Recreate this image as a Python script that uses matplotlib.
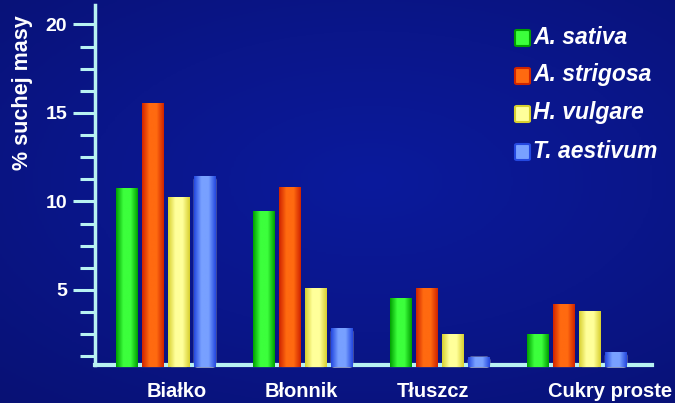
import numpy as np
import matplotlib
matplotlib.use("Agg")
import matplotlib.pyplot as plt
from matplotlib.colors import LinearSegmentedColormap
from matplotlib.patches import FancyBboxPatch

categories = ["Białko", "Błonnik", "Tłuszcz", "Cukry proste"]
series_names = ["A. sativa", "A. strigosa", "H. vulgare", "T. aestivum"]
values = {
    "A. sativa":   [10.7, 9.4, 4.5, 2.45],
    "A. strigosa": [15.5, 10.8, 5.1, 4.15],
    "H. vulgare":  [10.2, 5.1, 2.45, 3.8],
    "T. aestivum": [11.4, 2.8, 1.2, 1.45],
}
yticks_major = [5, 10, 15, 20]
ytick_labels = ["5", "10", "15", "20"]

# colour styles (edge, centre)
base_colors = {
    "A. sativa":   ("#00a000", "#3cff3c"),
    "A. strigosa": ("#d02400", "#ff6a10"),
    "H. vulgare":  ("#d8d030", "#ffff9a"),
    "T. aestivum": ("#2448e0", "#78a0ff"),
}
label_offsets = [0.08, -0.015, -0.05, 0.24]

W, H = 675, 403
fig = plt.figure(figsize=(W / 100, H / 100), dpi=100)

# background
bg = fig.add_axes([0, 0, 1, 1])
yy, xx = np.mgrid[0:1:200j, 0:1:300j]
r = np.sqrt((xx - 0.55) ** 2 * 0.8 + (yy - 0.45) ** 2)
bgcmap = LinearSegmentedColormap.from_list("bg", ["#0b1a9c", "#0a168a", "#081174"])
bg.imshow(r, cmap=bgcmap, aspect="auto", extent=[0, 1, 0, 1], vmin=0, vmax=0.75)
bg.set_axis_off()

ax_l = 95 / W
ax_r = 652 / W
ax_t = 1 - 5 / H
ax_b = 1 - 365 / H
ax = fig.add_axes([ax_l, ax_b, ax_r - ax_l, ax_t - ax_b])
ax.patch.set_alpha(0)

YMIN, YMAX = 0.76, 21.1
XMIN, XMAX = -0.518, 3.547
ax.set_xlim(XMIN, XMAX)
ax.set_ylim(YMIN, YMAX)

# pixel scale for rounded corners
px_x = (XMAX - XMIN) / (652 - 95)
px_y = (YMAX - YMIN) / (365 - 5)

n = len(series_names)
pitch = 0.19
width = 0.155
x = np.arange(len(categories))
light = "#b8f2f2"

for i, name in enumerate(series_names):
    pos = x + (i - (n - 1) / 2) * pitch
    bars = ax.bar(pos, values[name], width=width, bottom=0,
                  color=base_colors[name][0], zorder=3)
    cm = LinearSegmentedColormap.from_list(
        name, [base_colors[name][0], base_colors[name][1], base_colors[name][1], base_colors[name][0]])
    grad = np.linspace(0, 1, 64).reshape(1, -1)
    for b in bars:
        b.set_visible(False)
        bx = b.get_x()
        bw, bh = b.get_width(), b.get_height()
        lo = YMIN - 0.12
        top = b.get_y() + bh
        fb = FancyBboxPatch((bx, lo), bw, top - lo,
                            boxstyle="round,pad=0,rounding_size=%f" % (3.5 * px_x),
                            mutation_aspect=px_y / px_x,
                            facecolor=base_colors[name][0],
                            edgecolor="#a0acc8" if name == "T. aestivum" else "none",
                            linewidth=1.0 if name == "T. aestivum" else 0,
                            zorder=3, clip_on=False)
        ax.add_patch(fb)
        im = ax.imshow(grad, cmap=cm, aspect="auto",
                       extent=[bx, bx + bw, lo, top], zorder=3.5, clip_on=False)
        im.set_clip_path(fb)

ax.set_xlim(XMIN, XMAX)
ax.set_ylim(YMIN, YMAX)

for s in ["top", "right"]:
    ax.spines[s].set_visible(False)
ax.spines["left"].set_color(light)
ax.spines["left"].set_linewidth(2.5)
ax.spines["bottom"].set_color(light)
ax.spines["bottom"].set_linewidth(3)
ax.spines["bottom"].set_zorder(2.5)

ax.set_yticks(yticks_major)
ax.set_yticklabels(ytick_labels)
minor = [v for v in np.arange(1.25, 21, 1.25) if v not in yticks_major]
ax.set_yticks(minor, minor=True)
ax.tick_params(axis="y", which="major", length=16, width=2.2, color=light,
               labelcolor="white", labelsize=14, pad=4)
ax.tick_params(axis="y", which="minor", length=11, width=2.2, color=light)
for t in ax.get_yticklabels():
    t.set_fontweight("bold")
    t.set_family("Liberation Sans")

ax.set_xticks(x + np.array(label_offsets))
ax.set_xticklabels(categories)
ax.tick_params(axis="x", length=0, pad=12, labelcolor="white", labelsize=14.5)
for t in ax.get_xticklabels():
    t.set_fontweight("bold")
    t.set_family("Liberation Sans")

fig.text(23 / W, 1 - 93 / H, "% suchej masy", rotation=90, color="white",
         fontsize=15.5, fontweight="bold", family="Liberation Sans",
         ha="center", va="center")

# legend
leg_y = [38, 76, 114, 152]
for i, name in enumerate(series_names):
    yc = 1 - leg_y[i] / H
    sq = FancyBboxPatch((515 / W, yc - 8 / H), 15 / W, 16 / H, transform=fig.transFigure,
                        boxstyle="round,pad=0,rounding_size=0.003",
                        facecolor=base_colors[name][1], edgecolor=base_colors[name][0],
                        linewidth=1.5)
    fig.patches.append(sq)
    fig.text(533 / W, yc + 1 / H, name, color="white", fontsize=16.5, fontweight="bold",
             fontstyle="italic", family="Liberation Sans", ha="left", va="center")

fig.savefig("out.png", dpi=100)
